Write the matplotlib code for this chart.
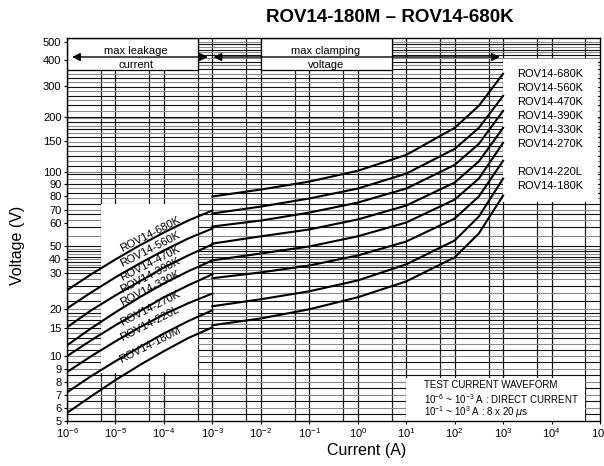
import numpy as np
import matplotlib
matplotlib.use("Agg")
import matplotlib.pyplot as plt
from matplotlib.patches import Rectangle

# current points (A)
i_leak = [1e-6, 3.16e-6, 1e-5, 3.16e-5, 1e-4, 3.16e-4, 1e-3]
i_clamp = [1e-3, 1e-2, 1e-1, 1, 10, 100, 316, 1000]

# max leakage current region, voltage (V)
v680_leak = [24.8, 29.7, 40.0, 50.4, 55.6, 61.4, 69.2]
v560_leak = [20.2, 24.2, 28.7, 36.8, 46.7, 53.1, 57.3]
v470_leak = [15.2, 19.7, 23.4, 27.4, 33.9, 42.8, 50.8]
v390_leak = [11.7, 15.0, 19.1, 22.9, 26.8, 31.3, 39.2]
v330_leak = [10.0, 12.6, 15.7, 19.4, 22.9, 26.2, 29.7]
v270_leak = [8.76, 10.0, 12.4, 15.2, 18.5, 21.4, 23.9]
v220_leak = [7.2, 8.45, 9.6, 11.4, 13.9, 16.7, 19.7]
v180_leak = [5.6, 6.9, 8.15, 9.3, 10.75, 13.0, 15.2]

# max clamping voltage region, voltage (V)
v680_clamp = [79.3, 84.9, 91.7, 102, 125, 175, 231, 343]
v560_clamp = [66.8, 72.0, 77.8, 85.7, 98.8, 135, 175, 263]
v470_clamp = [58.2, 61.4, 67.5, 74.8, 85.7, 110, 144, 216]
v390_clamp = [51.1, 54.0, 56.9, 62.2, 72.7, 90.9, 115, 175]
v330_clamp = [39.2, 44.3, 50.0, 54.0, 60.0, 77.0, 94.3, 146]
v270_clamp = [28.4, 30.6, 35.3, 42.8, 51.9, 62.9, 79.3, 116]
v220_clamp = [20.7, 22.4, 24.5, 27.7, 36.1, 52.3, 64.4, 94.3]
v180_clamp = [15.7, 17.4, 20.0, 22.9, 27.4, 41.4, 55.2, 80.0]

leak_names = ["ROV14-680K", "ROV14-560K", "ROV14-470K", "ROV14-390K",
              "ROV14-330K", "ROV14-270K", "ROV14-220L", "ROV14-180M"]
clamp_names = ["ROV14-680K", "ROV14-560K", "ROV14-470K", "ROV14-390K",
               "ROV14-330K", "ROV14-270K", "ROV14-220L", "ROV14-180K"]

y_ticks = [5, 6, 7, 8, 9, 10, 15, 20, 30, 40, 50, 60, 70, 80, 90, 100,
           150, 200, 300, 400, 500]
x_ticks = [10.0 ** k for k in range(-6, 6)]
x_ticklabels = ["10$^{%d}$" % k for k in range(-6, 6)]

# the datasheet voltage axis is not a clean log axis: calibrate it on its labels
y_anchor = y_ticks + [600]
y_anchor_pos = [0, 13, 26, 39, 52, 65, 93, 112, 148, 162, 175, 199, 212, 226,
                238, 249.3, 281, 305, 336, 362, 379.7, 394]
log_anchor = np.log10(y_anchor)


def fwd(v):
    v = np.clip(np.asarray(v, dtype=float), 1e-3, None)
    return np.interp(np.log10(v), log_anchor, y_anchor_pos)


def inv(p):
    return 10 ** np.interp(np.asarray(p, dtype=float), y_anchor_pos, log_anchor)


narrow = dict(family=["Liberation Sans", "DejaVu Sans"])
plt.rcParams["font.family"] = ["Liberation Sans", "DejaVu Sans"]
plt.rcParams["mathtext.fontset"] = "custom"
plt.rcParams["mathtext.rm"] = "Liberation Sans"

fig = plt.figure(figsize=(6.04, 4.66), dpi=100)
ax = fig.add_axes([67 / 604, 45 / 466, 533 / 604, 383 / 466])
ax.set_xscale("log")
ax.set_yscale("function", functions=(fwd, inv))
ax.set_xlim(1e-6, 1e5)
ax.set_ylim(5, 528)

# grid
for k in range(-6, 5):
    ax.axvline(10.0 ** k, color="#111111", lw=0.9, zorder=1)
    ax.axvline(5 * 10.0 ** k, color="#222222", lw=0.9, zorder=1)
h_grid = list(np.arange(5.5, 10, 0.5)) + list(np.arange(10, 20, 1)) + \
    list(np.arange(20, 50, 2)) + list(np.arange(50, 100, 4)) + \
    list(np.arange(100, 200, 8)) + list(np.arange(200, 520, 16))
for n, g in enumerate(h_grid):
    ax.axhline(g, color="#111111" if n % 2 == 0 else "#8a8a8a", lw=0.8, zorder=1)

# white boxes
boxes = [((1e-6, 358), (5e-4, 528), True),
         ((1e-2, 358), (5, 528), True),
         ((5e-6, 8.7), (5e-4, 74), False),
         ((1e3, 75), (9.1e4, 405), False),
         ((10, 5), (5e4, 8.3), False)]
for (x0, y0), (x1, y1), edge in boxes:
    ax.add_patch(Rectangle((x0, y0), x1 - x0, y1 - y0, facecolor="white",
                           edgecolor="black" if edge else "none", lw=0.9, zorder=2))

leak = [v680_leak, v560_leak, v470_leak, v390_leak, v330_leak, v270_leak, v220_leak, v180_leak]
clamp = [v680_clamp, v560_clamp, v470_clamp, v390_clamp, v330_clamp, v270_clamp, v220_clamp, v180_clamp]
for v in leak:
    ax.plot(i_leak, v, color="black", lw=1.5, zorder=3)
for v in clamp:
    ax.plot(i_clamp, v, color="black", lw=1.5, zorder=3)

# arrows of the two regions
arr = dict(arrowstyle="<|-|>", color="black", lw=1.0, mutation_scale=12,
           shrinkA=0, shrinkB=0)
ax.annotate("", xy=(1.27e-6, 415), xytext=(8.1e-4, 415), arrowprops=arr, zorder=4)
ax.annotate("", xy=(1.05e-3, 415), xytext=(860, 415), arrowprops=arr, zorder=4)
fs = 8
ax.text(2.65e-5, 450, "max leakage", ha="center", va="center", fontsize=fs,
        zorder=5, **narrow)
ax.text(2.65e-5, 377, "current", ha="center", va="center", fontsize=fs,
        zorder=5, **narrow)
ax.text(0.222, 450, "max clamping", ha="center", va="center", fontsize=fs,
        zorder=5, **narrow)
ax.text(0.222, 377, "voltage", ha="center", va="center", fontsize=fs,
        zorder=5, **narrow)

# curve labels inside the left box
leak_lab_y = [54.8, 47.5, 36.8, 29.3, 25.3, 20.2, 16.1, 11.7]
for name, yv in zip(leak_names, leak_lab_y):
    ax.text(5.2e-5, yv, name, rotation=27, ha="center", va="center",
            fontsize=fs, zorder=5, rotation_mode="anchor", **narrow)

# legend list in the right box
clamp_lab_y = [343, 292, 243, 203, 171, 144, 100, 88.3]
for name, yv in zip(clamp_names, clamp_lab_y):
    ax.text(9300, yv, name, ha="center", va="center", fontsize=fs,
            zorder=5, **narrow)

fw = 7
ax.text(23.3, 7.75, "TEST CURRENT WAVEFORM", ha="left", va="center",
        fontsize=fw, zorder=5, **narrow)
ax.text(23.3, 6.67, "10$^{-6}$ ~ 10$^{-3}$ A : DIRECT CURRENT", ha="left",
        va="center", fontsize=fw, zorder=5, **narrow)
ax.text(23.3, 5.67, "10$^{-1}$ ~ 10$^{3}$ A : 8 x 20 $\\mu$s", ha="left",
        va="center", fontsize=fw, zorder=5, **narrow)

ax.set_yticks(y_ticks)
ax.set_yticklabels([str(t) for t in y_ticks], fontsize=fs, **narrow)
ax.yaxis.set_minor_locator(matplotlib.ticker.NullLocator())
ax.set_xticks(x_ticks)
ax.set_xticklabels(x_ticklabels, fontsize=8, **narrow)
ax.xaxis.set_minor_locator(matplotlib.ticker.NullLocator())
ax.tick_params(length=2, width=0.8, pad=2)
for s in ax.spines.values():
    s.set_linewidth(1.0)
    s.set_zorder(6)

fig.text(390 / 604, 1 - 17 / 466, "ROV14-180M \u2013 ROV14-680K", ha="center",
         va="center", fontsize=13.5, fontweight="bold")
fig.text(367 / 604, 1 - 451 / 466, "Current (A)", ha="center", va="center",
         fontsize=11.5)
fig.text(18 / 604, 1 - 245 / 466, "Voltage (V)", ha="center", va="center",
         fontsize=11.5, rotation=90)

fig.savefig("out.png", dpi=100)
